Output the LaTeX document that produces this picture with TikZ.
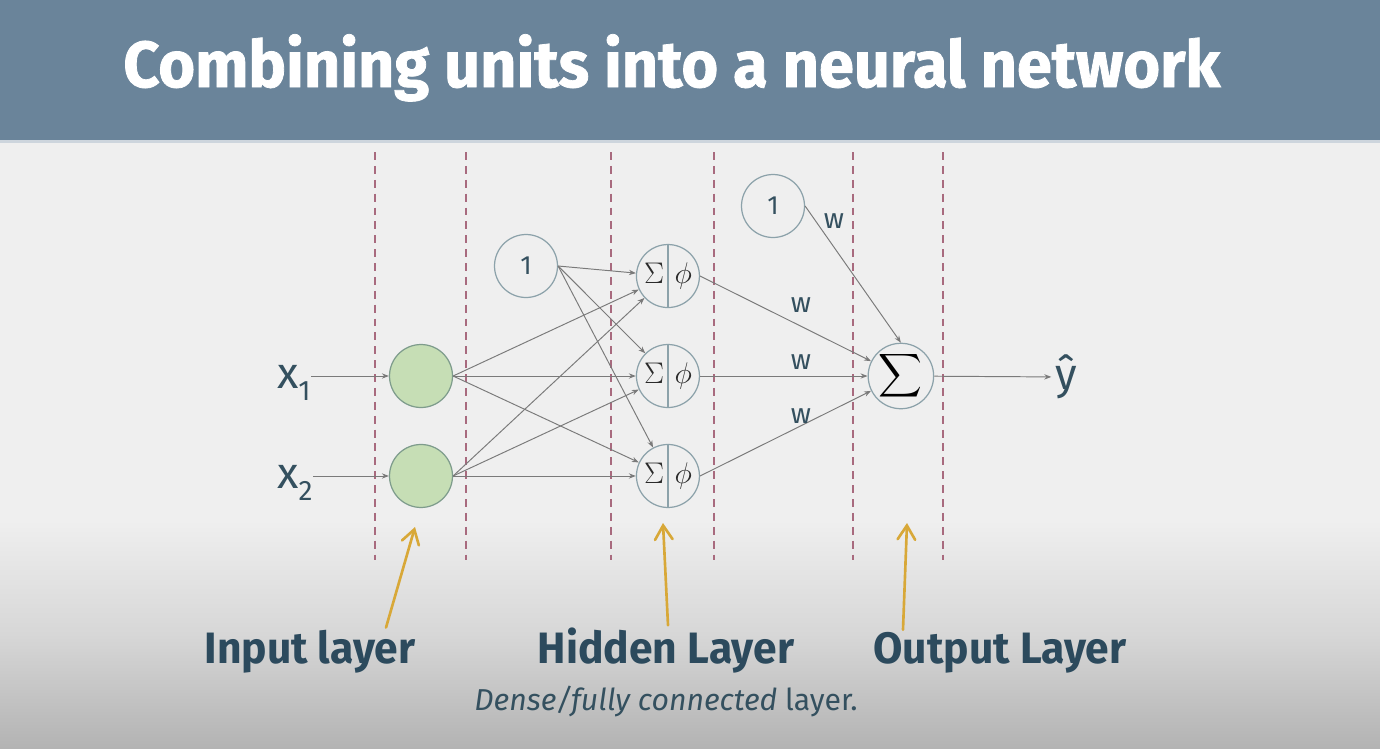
\RequirePackage{fix-cm}
\documentclass[tikz,border=0pt]{standalone}
\usepackage[no-math]{fontspec}
\setmainfont{Fira Sans}
\newfontfamily\titlefont[FakeStretch=0.97, FakeBold=1.2]{Fira Sans}
\newfontfamily\labelfont[FakeStretch=0.97]{Fira Sans}
\usepackage{amsmath}
\usetikzlibrary{arrows.meta,positioning}
\definecolor{header}{HTML}{6A849A}
\definecolor{headerrim}{HTML}{CDD5DD}
\definecolor{paper}{HTML}{EFEFEF}
\definecolor{shadebottom}{HTML}{B3B3B3}
\definecolor{dashred}{HTML}{A86A7E}
\definecolor{nodeline}{HTML}{8CA2AA}
\definecolor{unitgreen}{HTML}{C6DEB5}
\definecolor{greenline}{HTML}{7E9C8C}
\definecolor{edgegray}{HTML}{7A7A7A}
\definecolor{gold}{HTML}{D8A838}
\definecolor{ink}{HTML}{34505F}
\definecolor{labelink}{HTML}{2C4A5D}
\definecolor{mathink}{HTML}{2A2A2A}

\begin{document}
\begin{tikzpicture}
[x=0.02cm, y=-0.02cm,
 unit/.style={circle, draw=nodeline, line width=0.7pt, minimum size=1.26cm, inner sep=0pt, text=ink},
 inputunit/.style={unit, fill=unitgreen, draw=greenline},
 hiddenunit/.style={unit, text=mathink, font=\fontsize{17}{17}\selectfont},
 layerline/.style={draw=dashred, line width=0.75pt, dash pattern=on 4.5pt off 3.4pt},
 edge/.style={->, draw=edgegray, line width=0.55pt, >={Stealth[length=4pt,width=3pt]}},
 pointer/.style={->, draw=gold, line width=1.5pt, line cap=round, >={Straight Barb[length=8pt,width=10pt,line cap=round]}},
 weight/.style={text=ink, font=\fontsize{16}{16}\selectfont},
 layername/.style={text=labelink, font=\labelfont\bfseries\fontsize{25}{28}\selectfont, anchor=base, inner sep=1pt}]
    % background and header
    \fill[paper] (0,140) rectangle (1380,748);
    \shade[top color=paper, bottom color=shadebottom, middle color=paper!60!shadebottom] (0,520) rectangle (1380,748);
    \fill[header] (0,0) rectangle (1380,140);
    \fill[headerrim] (0,140) rectangle (1380,143);
    \useasboundingbox (0,0) rectangle (1380,748);
    \node[anchor=base west, text=white, inner sep=0pt, font=\titlefont\bfseries\fontsize{37}{40}\selectfont] (title) at (123,87) {Combining units into a neural network};
    % layer borders
    \foreach \x in {375,466,611,714,853,943}
        \draw[layerline] (\x,152) -- (\x,560);
    % units
    \node[inputunit](in1) at (421,376) {};
    \node[inputunit, on grid](in2) [below=2cm of in1] {};
    \node[hiddenunit, on grid](hid2) [right=4.94cm of in1] {$\Sigma\hspace{6pt}\phi$};
    \node[hiddenunit, on grid](hid1) [above=2cm of hid2] {$\Sigma\hspace{6pt}\phi$};
    \node[hiddenunit, on grid](hid3) [below=2cm of hid2] {$\Sigma\hspace{6pt}\phi$};
    \node[unit, text=black, font=\fontsize{16}{16}\selectfont, on grid](out) [right=4.66cm of hid2] {$\displaystyle\sum$};
    \node[unit, font=\fontsize{15}{15}\selectfont](bias1) at (526,266) {1};
    \node[unit, font=\fontsize{15}{15}\selectfont](bias2) at (773,206) {1};
    \foreach \j in {1,2,3}
        \draw[draw=nodeline, line width=0.7pt] (hid\j.north) -- (hid\j.south);
    % inputs and output
    \node[anchor=base east, text=ink, inner sep=0pt, font=\fontsize{25}{25}\selectfont](x1) at (311,388) {x\raisebox{-7pt}{\fontsize{16}{16}\selectfont 1}};
    \node[anchor=base east, text=ink, inner sep=0pt, font=\fontsize{25}{25}\selectfont](x2) at (313,488) {x\raisebox{-7pt}{\fontsize{16}{16}\selectfont 2}};
    \node[text=ink, inner sep=2pt, font=\fontsize{25}{25}\selectfont](yhat) at (1066,377) {ŷ};
    \draw[edge] (x1.east |- in1.west) -- (in1.west);
    \draw[edge] (x2.east |- in2.west) -- (in2.west);
    \draw[edge] (out) -- (yhat);
    % connections
    \foreach \i in {1,2}
        \foreach \j in {1,2,3}
            \draw[edge] (in\i.east) -- (hid\j);
    \foreach \j in {1,2,3}
        \draw[edge] (bias1.east) -- (hid\j);
    \foreach \j in {1,2,3}
        \draw[edge] (hid\j.east) -- (out);
    \draw[edge] (bias2.east) -- (out.north);
    % weights
    \node[weight](w0) at (834,221) {w};
    \node[weight](w1) at (801,305) {w};
    \node[weight](w2) at (801,362) {w};
    \node[weight](w3) at (801,416) {w};
    % layer names
    \node[layername](inlab) at (310,663) {Input layer};
    \node[layername](hidlab) at (666,663) {Hidden Layer};
    \node[layername](outlab) at (1000,663) {Output Layer};
    \node[text=ink, anchor=base, font=\fontsize{17.2}{19}\selectfont](dense) at (666,710) {\textit{Dense/fully connected} layer.};
    \coordinate (inpt) at (415,527);
    \coordinate (hidpt) at (663,523);
    \coordinate (outpt) at (907,523);
    \draw[pointer] (386,0 |- inlab.north) -- (inpt);
    \draw[pointer] (668,0 |- hidlab.north) -- (hidpt);
    \draw[pointer] (903,0 |- outlab.north) -- (outpt);
\end{tikzpicture}
\end{document}
